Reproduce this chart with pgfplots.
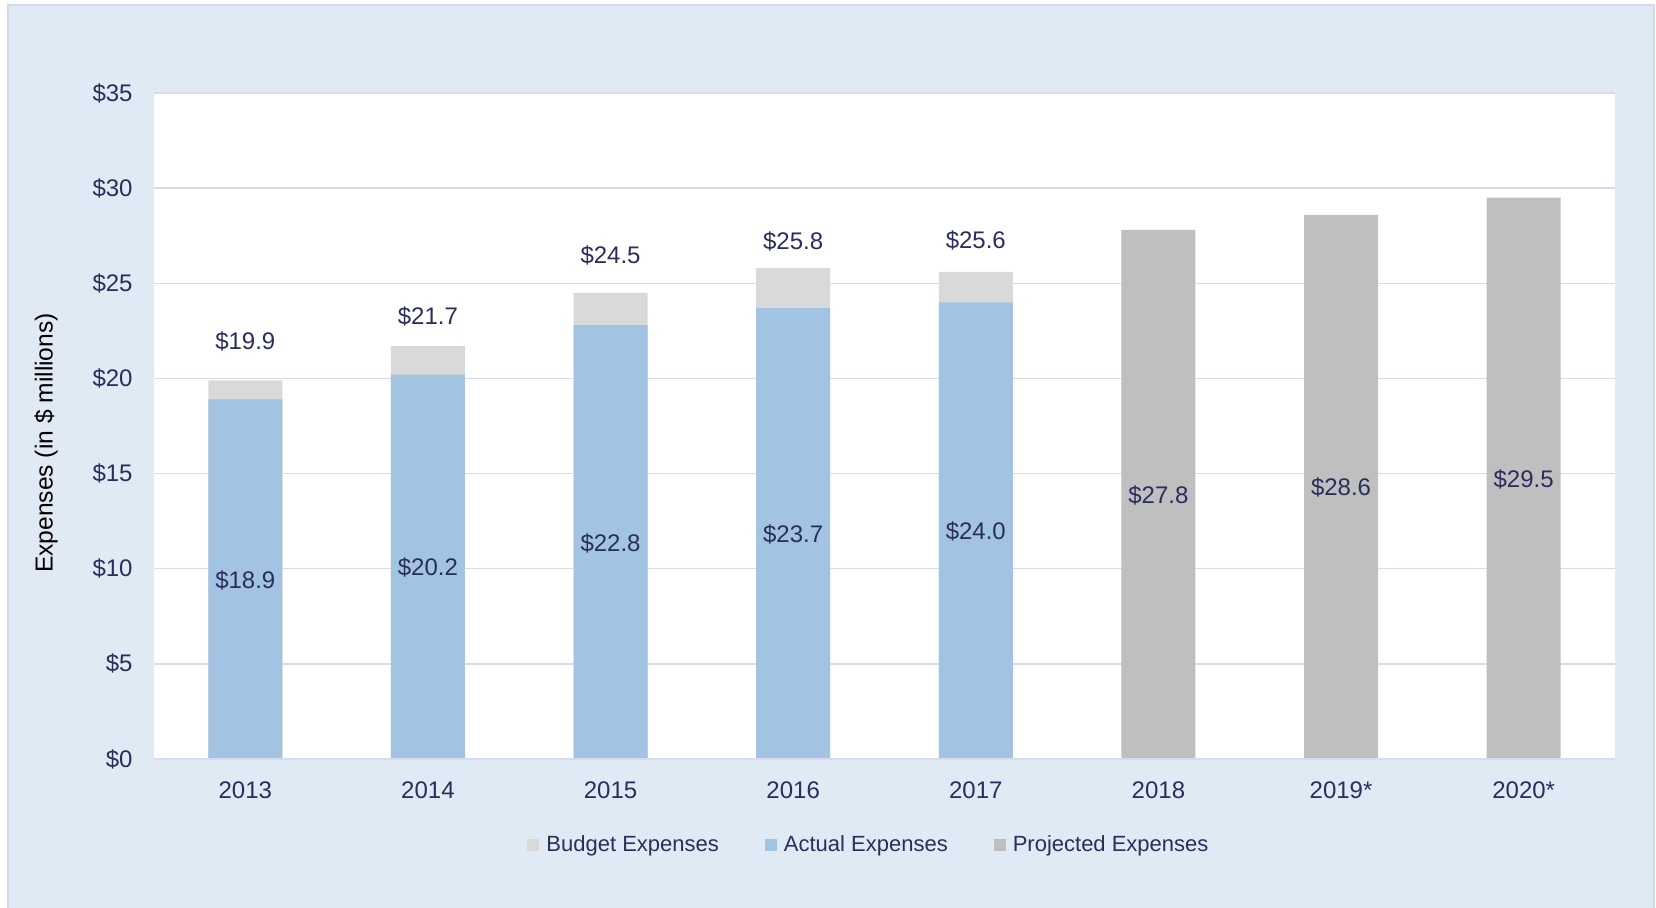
\documentclass[border=0pt]{standalone}
\usepackage{fontspec}
\setmainfont{Liberation Sans}
\usepackage{pgfplots}
\usepackage{pgfplotstable}
\pgfplotsset{compat=1.18}

\definecolor{bg}{HTML}{E0EAF4}
\definecolor{framec}{HTML}{D3D8EE}
\definecolor{gridc}{HTML}{D8DAF0}
\definecolor{navy}{HTML}{2A2E5C}
\definecolor{actual}{HTML}{A2C4E2}
\definecolor{budget}{HTML}{D9D9D9}
\definecolor{proj}{HTML}{BFBFBF}

% label positions (y) and printed values
\pgfplotstableread{
x y val
0 9.40 18.9
1 10.05 20.2
2 11.35 22.8
3 11.80 23.7
4 11.95 24.0
5 13.85 27.8
6 14.25 28.6
7 14.70 29.5
0 21.95 19.9
1 23.25 21.7
2 26.46 24.5
3 27.18 25.8
4 27.24 25.6
}\labels

\begin{document}
\begin{tikzpicture}
\useasboundingbox (-77pt,-74.5pt) rectangle (751pt,379.5pt);
\fill[bg] (-73pt,-74.5pt) rectangle (750pt,377pt);
\draw[framec, line width=1pt] (-73pt,-74.5pt) -- (-73pt,377pt) -- (750pt,377pt) -- (750pt,-74.5pt);
\begin{axis}[
    at={(0,0)}, anchor=south west,
    scale only axis,
    width=730.5pt, height=333pt,
    ybar, bar width=37pt, bar shift=0pt,
    xmin=-0.5, xmax=7.5,
    ymin=0, ymax=35,
    xtick={0,...,7},
    xticklabels={2013,2014,2015,2016,2017,2018,2019*,2020*},
    ytick={0,5,...,35},
    yticklabels={\$0,\$5,\$10,\$15,\$20,\$25,\$30,\$35},
    major tick length=0pt,
    axis line style={draw=none},
    axis background/.style={fill=white},
    ymajorgrids, grid style={gridc, line width=0.75pt},
    tick label style={font=\fontsize{12}{14}\selectfont, text=navy, inner sep=0pt},
    yticklabel style={xshift=-10.5pt},
    xticklabel style={yshift=-11.3pt},
    ylabel={Expenses (in \$ millions)},
    every axis y label/.style={at={(axis description cs:-0.0739,0.4745)}, rotate=90, anchor=center, font=\fontsize{12.3}{14}\selectfont, text=black},
    legend columns=3,
    legend style={at={(rel axis cs:0.4887,-0.1285)}, anchor=center, draw=none, fill=none,
        font=\fontsize{11}{13}\selectfont, text=navy, nodes={inner sep=0pt},
        /tikz/every odd column/.append style={column sep=3.5pt},
        /tikz/every even column/.append style={column sep=23pt}},
    legend image code/.code={\fill[#1] (0pt,-3pt) rectangle (6pt,3pt);},
]
\addplot[fill=budget, draw=none] coordinates {(0,19.9) (1,21.7) (2,24.5) (3,25.8) (4,25.6)};
\addlegendentry{Budget Expenses}
\addplot[fill=actual, draw=none] coordinates {(0,18.9) (1,20.2) (2,22.8) (3,23.7) (4,24.0)};
\addlegendentry{Actual Expenses}
\addplot[fill=proj, draw=none] coordinates {(5,27.8) (6,28.6) (7,29.5)};
\addlegendentry{Projected Expenses}
\draw[gridc, line width=1pt] (rel axis cs:0,0) -- (rel axis cs:1,0);
\addplot[forget plot, only marks, mark=*, mark size=0pt, mark options={draw=none, fill=none},
    point meta=explicit,
    nodes near coords={\$\pgfmathprintnumber[fixed, fixed zerofill, precision=1, assume math mode=true]{\pgfplotspointmeta}},
    every node near coord/.style={anchor=center, font=\fontsize{12}{14}\selectfont, text=navy, inner sep=0pt}]
    table[x=x, y=y, meta=val] {\labels};
\end{axis}
\end{tikzpicture}
\end{document}
